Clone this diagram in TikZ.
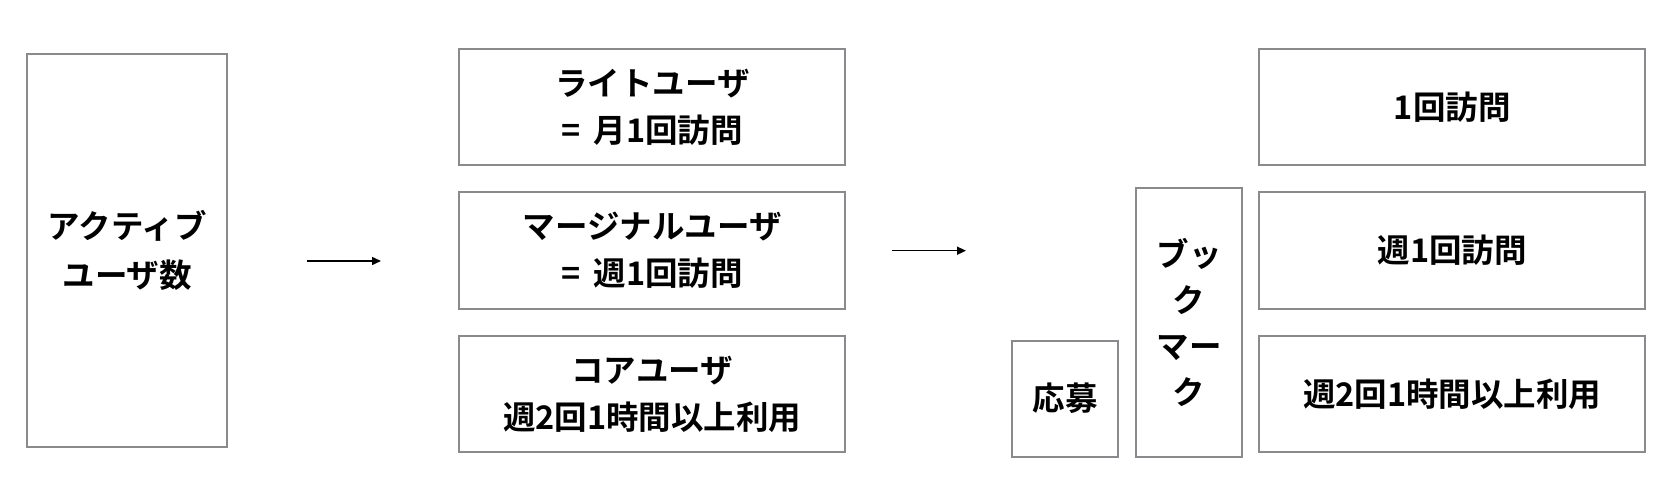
\documentclass[tikz,border=0pt]{standalone}
\usepackage{fontspec}
\setmainfont{Noto Sans CJK JP}[BoldFont={Noto Sans CJK JP Bold}]
\usetikzlibrary{arrows.meta}
\definecolor{boxgray}{HTML}{8A8A8E}
\newcommand{\eqsp}{=\hspace{0.4em}}
\begin{document}
\begin{tikzpicture}[x=1bp,y=-1bp,
  box/.style={draw=boxgray,line width=2bp,inner sep=0pt,align=center,
    font=\bfseries\fontsize{32.5bp}{47bp}\selectfont},
  flow/.style={line width=1.5bp,-{Triangle[length=9bp,width=8bp]}}]
\useasboundingbox (0,0) rectangle (1680,490);
\node[box,minimum width=200bp,minimum height=392bp,font=\bfseries\fontsize{32.5bp}{49bp}\selectfont] (active) at (127.3,250.5) {アクティブ\\ユーザ数};
\node[box,minimum width=386bp,minimum height=116bp] (light) at (652.3,107.3) {ライトユーザ\\\eqsp 月1回訪問};
\node[box,minimum width=386bp,minimum height=116bp] (marginal) at (652.3,250.5) {マージナルユーザ\\\eqsp 週1回訪問};
\node[box,minimum width=386bp,minimum height=116bp] (core) at (652.3,394.2) {コアユーザ\\週2回1時間以上利用};
\node[box,minimum width=106.6bp,minimum height=116bp] (apply) at (1065,398.7) {応募};
\node[box,minimum width=106.6bp,minimum height=269bp,font=\bfseries\fontsize{32.5bp}{46bp}\selectfont] (bookmark) at (1189,322.2) {ブッ\\ク\\マー\\ク};
\node[box,minimum width=386bp,minimum height=116bp] (once) at (1452.3,107.3) {1回訪問};
\node[box,minimum width=386bp,minimum height=116bp] (weekly) at (1452.3,250.5) {週1回訪問};
\node[box,minimum width=386bp,minimum height=116bp] (twice) at (1452.3,394.2) {週2回1時間以上利用};
\coordinate (a1s) at (306.7,261);
\coordinate (a1e) at (381,261);
\coordinate (a2s) at (891.7,250.7);
\coordinate (a2e) at (966,250.7);
\draw[flow] (a1s) -- (a1e);
\draw[flow] (a2s) -- (a2e);
\end{tikzpicture}
\end{document}
